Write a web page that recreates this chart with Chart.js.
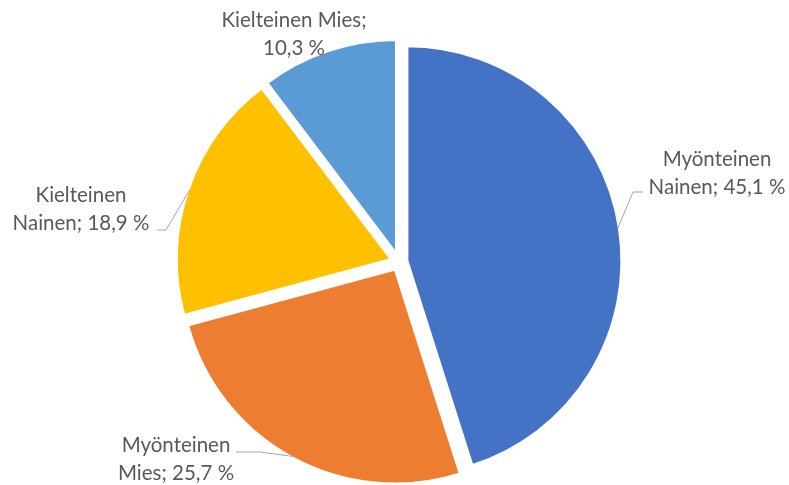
<!DOCTYPE html>
<html>
<head>
<meta charset="utf-8">
<script src="https://cdn.jsdelivr.net/npm/chart.js@4/dist/chart.umd.min.js"></script>
<style>
  html, body { margin: 0; padding: 0; background: #ffffff; }
  #wrap { width: 789px; height: 485px; }
</style>
</head>
<body>
<div id="wrap"><canvas id="chart" width="789" height="485"></canvas></div>
<script>
// Answer groups and their shares (%)
const categories = ['Myönteinen Nainen', 'Myönteinen Mies', 'Kielteinen Nainen', 'Kielteinen Mies'];
const shares = [45.1, 25.7, 18.9, 10.3];
const sliceColors = ['#4472C4', '#ED7D31', '#FFC000', '#5B9BD5'];

// Label placement: text centre, words kept on first line, optional leader knee/tail
const labelLayout = [
  { x: 717, y: 159, firstLineWords: 1, knee: [633, 192], tail: [643, 192] },
  { x: 176, y: 445, firstLineWords: 1, knee: [260, 452], tail: [236, 452] },
  { x: 81,  y: 195, firstLineWords: 1, knee: [166, 230], tail: [157, 230] },
  { x: 294, y: 20,  firstLineWords: 2, knee: null, tail: null }
];

const EXPLODE = 8;         // how far each slice is pulled out along its bisector
const LINE_HEIGHT = 28.5;
const LABEL_FONT = '20.5px Lato, "Open Sans", sans-serif';

function formatShare(v) {
  return v.toFixed(1).replace('.', ',') + ' %';
}

function labelLines(i) {
  const words = (categories[i] + '; ' + formatShare(shares[i])).split(' ');
  const k = labelLayout[i].firstLineWords;
  return [words.slice(0, k).join(' '), words.slice(k).join(' ')];
}

// Draws every slice shifted outward from the centre
const explodedSlices = {
  id: 'explodedSlices',
  beforeDatasetDraw(chart, args) {
    const ctx = chart.ctx;
    args.meta.data.forEach(arc => {
      const mid = (arc.startAngle + arc.endAngle) / 2;
      ctx.save();
      ctx.translate(Math.cos(mid) * EXPLODE, Math.sin(mid) * EXPLODE);
      arc.draw(ctx);
      ctx.restore();
    });
    return false;
  }
};

// Category/value labels with leader lines
const sliceLabels = {
  id: 'sliceLabels',
  afterDatasetsDraw(chart) {
    const ctx = chart.ctx;
    const meta = chart.getDatasetMeta(0);
    meta.data.forEach((arc, i) => {
      const lay = labelLayout[i];
      const mid = (arc.startAngle + arc.endAngle) / 2;
      const dist = EXPLODE + arc.outerRadius - 1.5;
      const sx = arc.x + Math.cos(mid) * dist;
      const sy = arc.y + Math.sin(mid) * dist;
      if (lay.knee) {
        ctx.save();
        ctx.strokeStyle = '#A6A6A6';
        ctx.lineWidth = 1;
        ctx.beginPath();
        ctx.moveTo(sx, sy);
        ctx.lineTo(lay.knee[0], lay.knee[1]);
        ctx.lineTo(lay.tail[0], lay.tail[1]);
        ctx.stroke();
        ctx.restore();
      }
      ctx.save();
      ctx.fillStyle = '#595959';
      ctx.font = LABEL_FONT;
      ctx.textAlign = 'center';
      ctx.textBaseline = 'middle';
      labelLines(i).forEach((line, j) => {
        ctx.fillText(line, lay.x, lay.y + j * LINE_HEIGHT);
      });
      ctx.restore();
    });
  }
};

new Chart(document.getElementById('chart'), {
  type: 'pie',
  data: {
    labels: categories,
    datasets: [{
      data: shares,
      backgroundColor: sliceColors,
      borderColor: '#ffffff',
      borderWidth: 3
    }]
  },
  options: {
    responsive: false,
    animation: false,
    devicePixelRatio: 1,
    radius: 215,
    layout: { padding: { left: 9, top: 39, right: 0, bottom: 0 } },
    plugins: {
      legend: { display: false },
      tooltip: { enabled: false }
    }
  },
  plugins: [explodedSlices, sliceLabels]
});
</script>
</body>
</html>
